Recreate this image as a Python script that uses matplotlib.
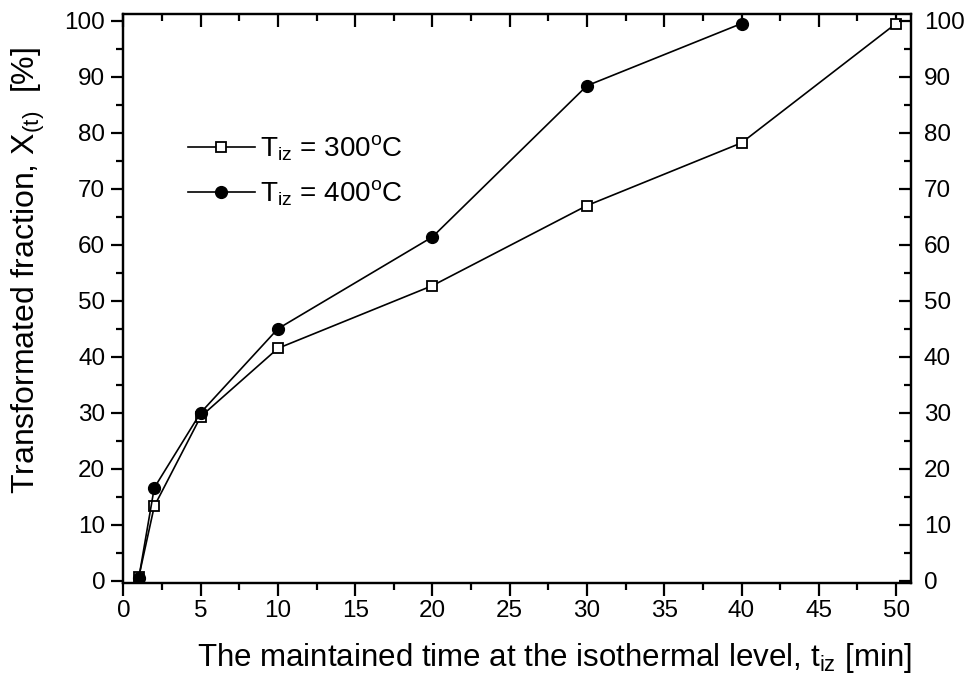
"""Transformed fraction vs. holding time at the isothermal level."""
import matplotlib
matplotlib.use("Agg")
import matplotlib.pyplot as plt
from matplotlib.ticker import MultipleLocator

plt.rcParams['font.family'] = ['Liberation Sans', 'DejaVu Sans']
plt.rcParams['mathtext.fontset'] = 'custom'
plt.rcParams['mathtext.rm'] = 'Liberation Sans'
plt.rcParams['mathtext.it'] = 'Liberation Sans:italic'

# data
time_300 = [1, 2, 5, 10, 20, 30, 40, 50]
frac_300 = [0.7, 13.3, 29.3, 41.5, 52.7, 67.0, 78.2, 99.5]
time_400 = [1, 2, 5, 10, 20, 30, 40]
frac_400 = [0.5, 16.6, 30.0, 45.0, 61.4, 88.4, 99.5]

label_300 = r'T$_{\mathrm{iz}}$ = 300$^{\mathrm{o}}$C'
label_400 = r'T$_{\mathrm{iz}}$ = 400$^{\mathrm{o}}$C'

XLIM = (0, 50.95)
YLIM = (-0.4, 101.2)

fig = plt.figure(figsize=(9.66, 6.81), dpi=100)
ax = fig.add_axes([0.1277, 0.1439, 0.8151, 0.8355])

ax.plot(time_300, frac_300, color='black', lw=1.2, marker='s', ms=7,
        mfc='white', mec='black', mew=1.3, label=label_300, zorder=3)
ax.plot(time_400, frac_400, color='black', lw=1.2, marker='o', ms=8.5,
        mfc='black', mec='black', label=label_400, zorder=4)

ax.set_xlim(*XLIM)
ax.set_ylim(*YLIM)
ax.xaxis.set_major_locator(MultipleLocator(5))
ax.xaxis.set_minor_locator(MultipleLocator(2.5))
ax.yaxis.set_major_locator(MultipleLocator(10))
ax.yaxis.set_minor_locator(MultipleLocator(5))

for sp in ax.spines.values():
    sp.set_linewidth(1.6)

# origin style: bottom/left out, top mirrored (pointing down)
ax.tick_params(axis='x', which='both', bottom=True, top=True, direction='out',
               width=1.6, labelsize=17.5, pad=3)
ax.tick_params(axis='y', which='both', left=True, right=False,
               direction='out', width=1.6, labelsize=17.5, pad=4)
ax.tick_params(which='major', length=9)
ax.tick_params(which='minor', length=5)
for tk in ax.xaxis.get_major_ticks() + ax.xaxis.get_minor_ticks():
    tk.tick2line.set_marker(3)   # TICKDOWN

# right axis: same scale, ticks pointing inward, labels outside
ax2 = ax.twinx()
ax2.set_ylim(*YLIM)
ax2.yaxis.set_major_locator(MultipleLocator(10))
ax2.yaxis.set_minor_locator(MultipleLocator(5))
ax2.tick_params(axis='y', which='both', direction='in', width=1.6,
                labelsize=17.5, pad=9.5)
ax2.tick_params(which='major', length=9)
ax2.tick_params(which='minor', length=5)
for sp in ax2.spines.values():
    sp.set_linewidth(1.6)

ax.set_xlabel(r'The maintained time at the isothermal level, t$_{\mathrm{iz}}$ [min]',
              fontsize=22.5)
ax.xaxis.set_label_coords(0.548, -0.102)
ax.set_ylabel(r'Transformated fraction, X$_{\mathrm{(t)}}$  [%]', fontsize=23)
ax.yaxis.set_label_coords(-0.097, 0.55)

ax.legend(loc='upper left', bbox_to_anchor=(0.082, 0.79), frameon=False,
          fontsize=20, numpoints=1, handlelength=2.4, handletextpad=0.2,
          borderpad=0, borderaxespad=0, labelspacing=0.55)

fig.savefig('out.png', dpi=100)
